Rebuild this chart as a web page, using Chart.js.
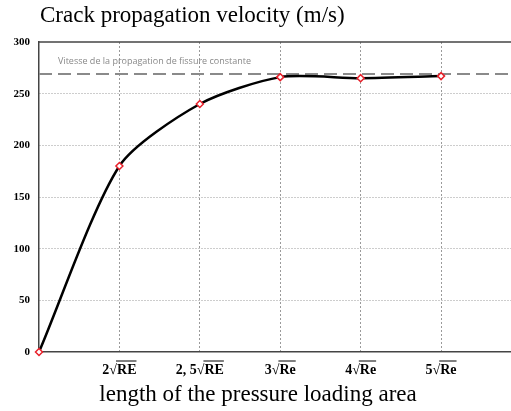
<!DOCTYPE html>
<html lang="en">
<head>
<meta charset="UTF-8">
<script src="https://cdn.jsdelivr.net/npm/chart.js"></script>
<style>
  html, body { margin: 0; padding: 0; background: #fff; }
  #wrap { width: 511px; height: 411px; }
</style>
</head>
<body>
<div id="wrap"><canvas id="crackChart" width="511" height="411"></canvas></div>
<script>
// values
const positions = [0, 1, 2, 3, 4, 5];
const velocity = [0, 180, 240, 266, 265, 267];
const tickLabels = ['', '2√RE', '2, 5√RE', '3√Re', '4√Re', '5√Re'];
const constantVelocity = 269;
const yTicks = [0, 50, 100, 150, 200, 250, 300];

const serif = '"Liberation Serif", "DejaVu Serif", serif';

const curve = positions.map((x, i) => ({ x: x, y: velocity[i] }));
const constLine = [{ x: 0, y: constantVelocity }, { x: 5.87, y: constantVelocity }];

// titles, annotation, overlines on the radicals, top frame
const extras = {
  id: 'extras',
  afterDraw(chart) {
    const ctx = chart.ctx;
    const area = chart.chartArea;
    const xs = chart.scales.x;
    ctx.save();
    // top frame line
    ctx.strokeStyle = '#444';
    ctx.lineWidth = 1.5;
    ctx.beginPath();
    ctx.moveTo(area.left, area.top);
    ctx.lineTo(area.right, area.top);
    ctx.stroke();

    ctx.fillStyle = '#000';
    ctx.font = '23px ' + serif;
    ctx.textBaseline = 'middle';
    ctx.textAlign = 'left';
    ctx.fillText('Crack propagation velocity (m/s)', 40, 16);

    ctx.textAlign = 'center';
    ctx.fillText('length of the pressure loading area', 258, 395);

    ctx.fillStyle = '#888';
    ctx.font = '9px "Open Sans", sans-serif';
    ctx.textAlign = 'left';
    ctx.fillText('Vitesse de la propagation de fissure constante', 58, 61);

    // overline over the radicand
    ctx.font = 'bold 14px ' + serif;
    ctx.strokeStyle = '#000';
    ctx.lineWidth = 1;
    positions.forEach((p, i) => {
      const lbl = tickLabels[i];
      if (!lbl) return;
      const full = ctx.measureText(lbl).width;
      const k = lbl.indexOf('√');
      const pre = ctx.measureText(lbl.slice(0, k + 1)).width;
      const cx = xs.getPixelForValue(p);
      const x0 = cx - full / 2 + pre - 1;
      const x1 = cx + full / 2;
      const yy = area.bottom + 9;
      ctx.beginPath();
      ctx.moveTo(x0, yy);
      ctx.lineTo(x1, yy);
      ctx.stroke();
    });
    ctx.restore();
  }
};

new Chart(document.getElementById('crackChart'), {
  type: 'scatter',
  data: {
    datasets: [
      {
        data: constLine,
        showLine: true,
        borderColor: '#8a8a8a',
        borderWidth: 2,
        borderDash: [13, 6],
        pointRadius: 0,
        order: 2
      },
      {
        data: curve,
        showLine: true,
        borderColor: '#000',
        borderWidth: 2.5,
        tension: 0.25,
        pointStyle: 'rectRot',
        pointRadius: 3.5,
        pointBorderColor: '#e8202a',
        pointBackgroundColor: '#fff',
        pointBorderWidth: 1.5,
        clip: false,
        order: 1
      }
    ]
  },
  options: {
    responsive: false,
    animation: false,
    layout: { autoPadding: false, padding: { top: 42, right: 0, left: 0, bottom: 0 } },
    plugins: { legend: { display: false }, tooltip: { enabled: false } },
    scales: {
      x: {
        type: 'linear',
        min: 0,
        max: 5.87,
        afterBuildTicks: (s) => { s.ticks = positions.map(v => ({ value: v })); },
        afterFit: (s) => { s.height = 59; },
        border: { display: true, color: '#444', width: 1.5, dash: [2, 2] },
        grid: {
          drawTicks: false,
          color: (c) => c.tick && c.tick.value === 0 ? 'rgba(0,0,0,0)' : '#9a9a9a'
        },
        ticks: {
          padding: 10,
          color: '#000',
          maxRotation: 0,
          autoSkip: false,
          font: { family: serif, size: 14, weight: 'bold' },
          callback: (v) => tickLabels[positions.indexOf(v)] || ''
        }
      },
      y: {
        min: 0,
        max: 300,
        afterBuildTicks: (s) => { s.ticks = yTicks.map(v => ({ value: v })); },
        afterFit: (s) => { s.width = 39; },
        border: { display: true, color: '#444', width: 1.5, dash: [1, 2] },
        grid: {
          drawTicks: false,
          color: (c) => c.tick && (c.tick.value === 0 || c.tick.value === 300) ? 'rgba(0,0,0,0)' : '#9a9a9a'
        },
        ticks: {
          padding: 9,
          color: '#000',
          font: { family: serif, size: 11, weight: 'bold' }
        }
      }
    }
  },
  plugins: [extras]
});
</script>
</body>
</html>
